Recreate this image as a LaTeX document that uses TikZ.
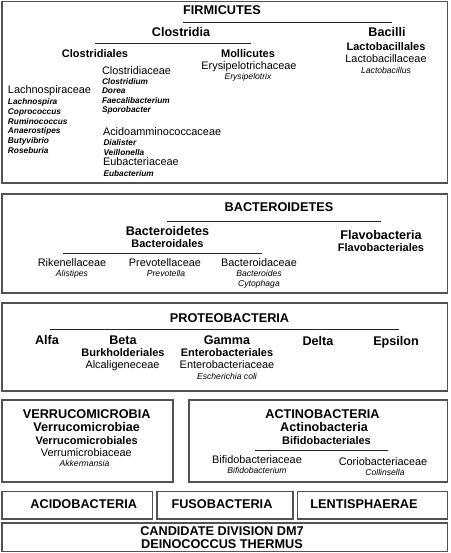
\documentclass[tikz,border=0pt]{standalone}
\usepackage{fontspec}
\setmainfont{Liberation Sans}
\begin{document}
\begin{tikzpicture}[x=1pt,y=-1pt,
  every node/.style={inner sep=0pt,outer sep=0pt,text height=.72em,text depth=0pt},
  phy/.style={font=\bfseries\fontsize{12.7}{14}\selectfont},
  cls/.style={font=\bfseries\fontsize{12.6}{14}\selectfont},
  ord/.style={font=\bfseries\fontsize{11}{13}\selectfont},
  fam/.style={font=\fontsize{10.9}{13}\selectfont},
  gen/.style={font=\itshape\fontsize{8.6}{10}\selectfont},
  genb/.style={font=\bfseries\itshape\fontsize{8.3}{10}\selectfont},
  lst/.style={anchor=west},
  box/.style={draw=black!68,line width=1.1pt},
  rule/.style={draw=black!85,line width=0.8pt}]
\useasboundingbox[fill=white] (0,0) rectangle (450,553);

% ---------- boxes ----------
\draw[box] (2,1.5) rectangle (447.5,183);
\draw[box] (2,194) rectangle (447.5,293);
\draw[box] (2,303) rectangle (447.5,391);
\draw[box] (2,400) rectangle (173,482);
\draw[box] (189,400) rectangle (447.5,482);
\draw[box] (2,491.5) rectangle (152.5,519);
\draw[box] (157,491.5) rectangle (293,519);
\draw[box] (297.5,491.5) rectangle (447.5,519);
\draw[box] (2,523) rectangle (447.5,551.5);

% ---------- FIRMICUTES ----------
\node[phy] (firm) at (222,11) {FIRMICUTES};
\coordinate (firmL) at (183,22); \coordinate (firmR) at (392,22);
\draw[rule] (firmL) -- (firmR);
\node[cls] (clostridia) at (181,33) {Clostridia};
\coordinate (closL) at (95,43); \coordinate (closR) at (251,43);
\draw[rule] (closL) -- (closR);
\node[cls] (bacilli) at (387,33) {Bacilli};
\node[ord] (lactobacillales) at (386,46.5) {Lactobacillales};
\node[fam] (lactobacillaceae) at (386,58.5) {Lactobacillaceae};
\node[gen] (lactobacillus) at (386,69.5) {Lactobacillus};
\node[ord] (clostridiales) at (95,53.5) {Clostridiales};
\node[ord] (mollicutes) at (248,53.5) {Mollicutes};
\node[fam] (erysipelotrichaceae) at (249,65.5) {Erysipelotrichaceae};
\node[gen] (erysipelotrix) at (248,76) {Erysipelotrix};

\node[fam,lst] (clostridiaceae) at (102,70.5) {Clostridiaceae};
\node[genb,lst] (clostridium) at (102,80.5) {Clostridium};
\node[genb,lst] (dorea) at (102,90) {Dorea};
\node[genb,lst] (faecali) at (102,99.5) {Faecalibacterium};
\node[genb,lst] (sporobacter) at (102,109) {Sporobacter};

\node[fam,lst] (lachnospiraceae) at (8,90) {Lachnospiraceae};
\node[genb,lst] (lachnospira) at (8,101) {Lachnospira};
\node[genb,lst] (coprococcus) at (8,110.5) {Coprococcus};
\node[genb,lst] (ruminococcus) at (8,120.5) {Ruminococcus};
\node[genb,lst] (anaerostipes) at (8,130) {Anaerostipes};
\node[genb,lst] (butyvibrio) at (8,140) {Butyvibrio};
\node[genb,lst] (roseburia) at (8,149.5) {Roseburia};

\node[fam,lst] (acidoam) at (103,132) {Acidoamminococcaceae};
\node[genb,lst] (dialister) at (103.5,142) {Dialister};
\node[genb,lst] (veillonella) at (103.5,152) {Veillonella};
\node[fam,lst] (eubacteriaceae) at (103,162) {Eubacteriaceae};
\node[genb,lst] (eubacterium) at (103.5,172.5) {Eubacterium};

% ---------- BACTEROIDETES ----------
\node[phy] (bact) at (279,208) {BACTEROIDETES};
\coordinate (bactL) at (167,221); \coordinate (bactR) at (381,221);
\draw[rule] (bactL) -- (bactR);
\node[cls] (bacteroidetes) at (167.5,232) {Bacteroidetes};
\node[ord] (bacteroidales) at (167.5,244) {Bacteroidales};
\coordinate (bdlL) at (63,253); \coordinate (bdlR) at (262,253);
\draw[rule] (bdlL) -- (bdlR);
\node[cls] (flavobacteria) at (381,236) {Flavobacteria};
\node[ord] (flavobacteriales) at (381,248) {Flavobacteriales};
\node[fam] (rikenellaceae) at (72,263) {Rikenellaceae};
\node[gen] (alistipes) at (72,273) {Alistipes};
\node[fam] (prevotellaceae) at (165,263) {Prevotellaceae};
\node[gen] (prevotella) at (166,273) {Prevotella};
\node[fam] (bacteroidaceae) at (259,263) {Bacteroidaceae};
\node[gen] (bacteroides) at (259,273) {Bacteroides};
\node[gen] (cytophaga) at (259,283) {Cytophaga};

% ---------- PROTEOBACTERIA ----------
\node[phy] (proteo) at (229.5,319) {PROTEOBACTERIA};
\coordinate (protL) at (50,329); \coordinate (protR) at (399,329);
\draw[rule] (protL) -- (protR);
\node[cls] (alfa) at (47,341) {Alfa};
\node[cls] (beta) at (123,341) {Beta};
\node[ord] (burkholderiales) at (123,353) {Burkholderiales};
\node[fam] (alcaligeneceae) at (122.5,365) {Alcaligeneceae};
\node[cls] (gamma) at (227,341) {Gamma};
\node[ord] (enterobacteriales) at (227,353) {Enterobacteriales};
\node[fam] (enterobacteriaceae) at (227,365) {Enterobacteriaceae};
\node[gen] (ecoli) at (227,376) {Escherichia coli};
\node[cls] (delta) at (318,342) {Delta};
\node[cls] (epsilon) at (396,342) {Epsilon};

% ---------- VERRUCOMICROBIA ----------
\node[phy] (verruco) at (86.7,415) {VERRUCOMICROBIA};
\node[cls] (verrucomicrobiae) at (86.7,428) {Verrucomicrobiae};
\node[ord] (verrucomicrobiales) at (86.7,441) {Verrucomicrobiales};
\node[fam] (verrumicrobiaceae) at (86.3,453) {Verrumicrobiaceae};
\node[gen] (akkermansia) at (84.5,462.5) {Akkermansia};

% ---------- ACTINOBACTERIA ----------
\node[phy] (actino) at (322.5,415) {ACTINOBACTERIA};
\node[cls] (actinobacteria) at (324,428) {Actinobacteria};
\node[ord] (bifidobacteriales) at (326.5,441) {Bifidobacteriales};
\coordinate (bifL) at (255,450); \coordinate (bifR) at (388,450);
\draw[rule] (bifL) -- (bifR);
\node[fam] (bifidobacteriaceae) at (257,460) {Bifidobacteriaceae};
\node[gen] (bifidobacterium) at (257,469.5) {Bifidobacterium};
\node[fam] (coriobacteriaceae) at (383,462) {Coriobacteriaceae};
\node[gen] (collinsella) at (385,471.5) {Collinsella};

% ---------- bottom rows ----------
\node[phy] (acido) at (83.7,505) {ACIDOBACTERIA};
\node[phy] (fuso) at (222,505) {FUSOBACTERIA};
\node[phy] (lenti) at (364,505) {LENTISPHAERAE};
\node[phy] (dm7) at (222,531.5) {CANDIDATE DIVISION DM7};
\node[phy] (deino) at (222,545) {DEINOCOCCUS THERMUS};
\end{tikzpicture}
\end{document}
